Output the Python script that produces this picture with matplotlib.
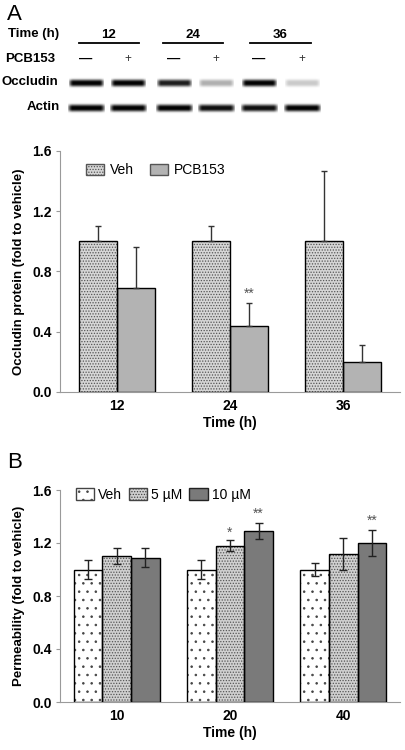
import numpy as np
import matplotlib
matplotlib.use("Agg")
import matplotlib.pyplot as plt
from matplotlib.patches import Patch

plt.rcParams["font.family"] = ["Liberation Sans", "DejaVu Sans"]
plt.rcParams["hatch.linewidth"] = 0.6

# Panel A - occludin western blot quantification
times_a = ["12", "24", "36"]
veh_a = [1.0, 1.0, 1.0]
veh_a_err = [0.10, 0.10, 0.47]
pcb_a = [0.69, 0.44, 0.20]
pcb_a_err = [0.27, 0.15, 0.11]
stars_a = ["", "**", ""]

# Panel B - permeability
times_b = ["10", "20", "40"]
veh_b = [1.0, 1.0, 1.0]
veh_b_err = [0.07, 0.07, 0.05]
low_b = [1.10, 1.18, 1.12]
low_b_err = [0.06, 0.04, 0.12]
high_b = [1.09, 1.29, 1.20]
high_b_err = [0.07, 0.06, 0.10]
stars_low_b = ["", "*", ""]
stars_high_b = ["", "**", "**"]

# blot band intensities (0..1), lanes: 12-,12+,24-,24+,36-,36+
occludin_bands = [0.95, 0.95, 0.85, 0.3, 0.95, 0.2]
actin_bands = [0.95, 0.95, 0.95, 0.9, 0.9, 0.95]
blot_times = ["12", "24", "36"]
blot_treat = ["\u2014", "+", "\u2014", "+", "\u2014", "+"]

fig = plt.figure(figsize=(4.05, 7.5), dpi=100)


def style_axes(ax):
    for s in ["top", "right"]:
        ax.spines[s].set_visible(False)
    ax.spines["left"].set_color("#9a9a9a")
    ax.spines["bottom"].set_color("#9a9a9a")
    ax.tick_params(axis="y", length=3, color="#9a9a9a", direction="out", pad=3)
    ax.tick_params(axis="x", length=0, pad=5)
    ax.set_ylim(0, 1.6)
    ax.set_yticks([0, 0.4, 0.8, 1.2, 1.6])
    ax.set_yticklabels(["0.0", "0.4", "0.8", "1.2", "1.6"], fontsize=10, fontweight="bold")
    ax.set_xlim(-0.5, 2.5)


def hatched_bars(ax, x, h, w, face, hatch, hcolor):
    ax.bar(x, h, w, color=face, edgecolor="none", zorder=2)
    if hatch:
        ax.bar(x, h, w, fill=False, edgecolor=hcolor, hatch=hatch, linewidth=0, zorder=3)
    ax.bar(x, h, w, fill=False, edgecolor="black", linewidth=1.0, zorder=4)


star_kw = dict(ha="center", va="center", fontsize=10, color="#555555")

# ---- panel A chart
axA = fig.add_axes([60 / 405, 1 - 392 / 750, 340 / 405, 241 / 750])
style_axes(axA)
x = np.arange(len(times_a))
w = 0.335
hatched_bars(axA, x - w / 2, veh_a, w, "#d6d6d6", "......", "#555555")
hatched_bars(axA, x + w / 2, pcb_a, w, "#b3b3b3", None, None)
axA.errorbar(x - w / 2, veh_a, yerr=[np.zeros(3), veh_a_err], fmt="none",
             ecolor="#333333", elinewidth=1, capsize=2.5, capthick=1, zorder=5)
axA.errorbar(x + w / 2, pcb_a, yerr=[np.zeros(3), pcb_a_err], fmt="none",
             ecolor="#333333", elinewidth=1, capsize=2.5, capthick=1, zorder=5)
for i, s in enumerate(stars_a):
    if s:
        axA.text(x[i] + w / 2, pcb_a[i] + pcb_a_err[i] + 0.06, s, **star_kw)
axA.set_xticks(x)
axA.set_xticklabels(times_a, fontsize=10, fontweight="bold")
axA.set_xlabel("Time (h)", fontsize=10, fontweight="bold", labelpad=2)
axA.set_ylabel("Occludin protein (fold to vehicle)", fontsize=9.5, fontweight="bold", labelpad=5)
legA = [Patch(facecolor="#d6d6d6", edgecolor="#555555", hatch="......", label="Veh"),
        Patch(facecolor="#b3b3b3", edgecolor="#555555", label="PCB153")]
axA.legend(handles=legA, loc="upper left", bbox_to_anchor=(0.04, 1.0), ncol=2,
           frameon=False, fontsize=10, handlelength=1.3, handleheight=0.9,
           handletextpad=0.4, columnspacing=1.2)

# ---- panel B chart
axB = fig.add_axes([60 / 405, 1 - 702 / 750, 340 / 405, 212 / 750])
style_axes(axB)
x = np.arange(len(times_b))
w = 0.252
hatched_bars(axB, x - w, veh_b, w, "white", "..", "#444444")
hatched_bars(axB, x, low_b, w, "#d0d0d0", "......", "#555555")
hatched_bars(axB, x + w, high_b, w, "#7a7a7a", None, None)
for off, vals, errs in [(-w, veh_b, veh_b_err), (0, low_b, low_b_err), (w, high_b, high_b_err)]:
    axB.errorbar(x + off, vals, yerr=errs, fmt="none", ecolor="#222222",
                 elinewidth=1, capsize=3, capthick=1, zorder=5)
for i in range(3):
    if stars_low_b[i]:
        axB.text(x[i], low_b[i] + low_b_err[i] + 0.06, stars_low_b[i], **star_kw)
    if stars_high_b[i]:
        axB.text(x[i] + w, high_b[i] + high_b_err[i] + 0.07, stars_high_b[i], **star_kw)
axB.set_xticks(x)
axB.set_xticklabels(times_b, fontsize=10, fontweight="bold")
axB.set_xlabel("Time (h)", fontsize=10, fontweight="bold", labelpad=2)
axB.set_ylabel("Permeability (fold to vehicle)", fontsize=9.5, fontweight="bold", labelpad=5)
legB = [Patch(facecolor="white", edgecolor="#444444", hatch="..", label="Veh"),
        Patch(facecolor="#d0d0d0", edgecolor="#444444", hatch="......", label="5 \u00b5M"),
        Patch(facecolor="#7a7a7a", edgecolor="#222222", label="10 \u00b5M")]
axB.legend(handles=legB, loc="upper left", bbox_to_anchor=(0.01, 1.07), ncol=3,
           frameon=False, fontsize=10, handlelength=1.3, handleheight=0.9,
           handletextpad=0.3, columnspacing=0.5)

# ---- blot + panel letters on an overlay in pixel coords
ov = fig.add_axes([0, 0, 1, 1], zorder=-1)
ov.set_xlim(0, 405)
ov.set_ylim(750, 0)
ov.axis("off")
ov.text(7, 14, "A", fontsize=16, va="center", ha="left")
ov.text(7, 463, "B", fontsize=16, va="center", ha="left")

lab_kw = dict(fontsize=9.5, fontweight="bold", va="center", ha="left")
ov.text(8, 34, "Time (h)", **lab_kw)
ov.text(5, 59, "PCB153", **lab_kw)
ov.text(2, 82, "Occludin", **lab_kw)
ov.text(27, 107, "Actin", **lab_kw)

group_x = [(79, 139), (163, 223), (250, 311)]
for (a, b), t in zip(group_x, blot_times):
    ov.plot([a, b], [43, 43], color="black", lw=1.3)
    ov.text((a + b) / 2, 35, t, fontsize=9.5, fontweight="bold", ha="center", va="center")

lane_x = [86, 128, 174, 216, 259, 302]
for lx, t in zip(lane_x, blot_treat):
    if t == "+":
        ov.text(lx, 59, t, fontsize=8.5, ha="center", va="center", color="#333333")
    else:
        ov.text(lx, 59, t, fontsize=9.5, ha="center", va="center", fontweight="bold")


def band(cx, cy, width, height, level):
    gx = np.linspace(-1, 1, 60)
    gy = np.linspace(-1, 1, 20)
    prof = np.exp(-(np.abs(gy[:, None]) / 0.6) ** 3) * np.clip(1.3 - np.abs(gx[None, :]) ** 5, 0, 1)
    rgba = np.zeros((20, 60, 4))
    rgba[..., 3] = np.clip(prof * level * 1.05, 0, 1)
    ov.imshow(rgba, extent=[cx - width / 2, cx + width / 2, cy + height / 2, cy - height / 2],
              aspect="auto", interpolation="bilinear")


for lx, lv in zip(lane_x, occludin_bands):
    band(lx, 83, 35, 12, lv)
for lx, lv in zip(lane_x, actin_bands):
    band(lx, 108, 37, 12, lv)
ov.set_xlim(0, 405)
ov.set_ylim(750, 0)

fig.savefig("out.png", dpi=100)
